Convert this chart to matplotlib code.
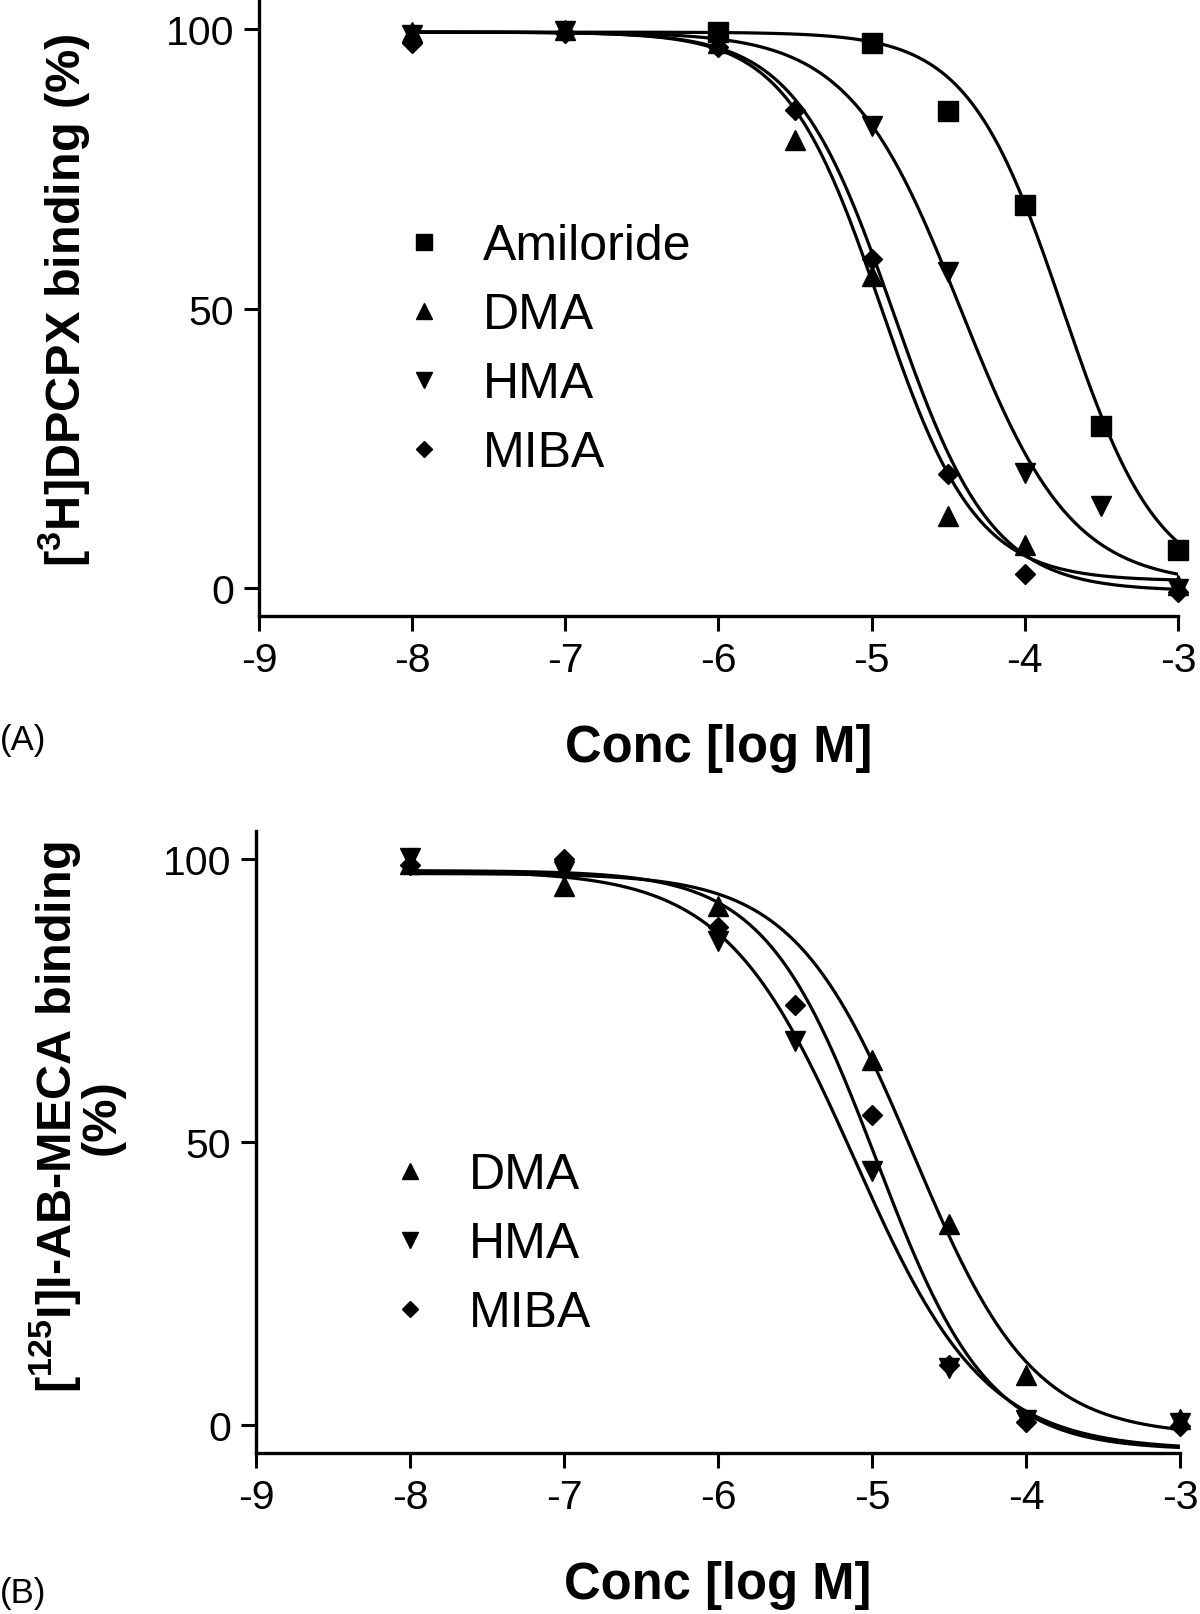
import numpy as np
import matplotlib
matplotlib.use('Agg')
import matplotlib.pyplot as plt

plt.rcParams['font.family'] = ['Liberation Sans', 'DejaVu Sans']
plt.rcParams['mathtext.fontset'] = 'custom'
plt.rcParams['mathtext.rm'] = 'Liberation Sans'
plt.rcParams['mathtext.bf'] = 'Liberation Sans:bold'
plt.rcParams['axes.unicode_minus'] = False

# ---- panel A data ([3H]DPCPX) ----
amil_a_x = [-6, -5, -4.5, -4, -3.5, -3]
amil_a_y = [99.5, 97.6, 85.4, 68.5, 29.0, 6.7]
dma_a_x = [-8, -7, -6, -5.5, -5, -4.5, -4, -3]
dma_a_y = [99.5, 99.8, 97.5, 80.2, 55.8, 12.8, 7.7, 0.5]
hma_a_x = [-8, -7, -6, -5, -4.5, -4, -3.5, -3]
hma_a_y = [98.9, 99.7, 99.2, 82.6, 56.5, 20.5, 14.7, -0.3]
miba_a_x = [-8, -7, -6, -5.5, -5, -4.5, -4, -3]
miba_a_y = [97.6, 99.3, 96.9, 85.5, 58.8, 20.4, 2.4, -0.8]

# ---- panel B data ([125I]I-AB-MECA) ----
dma_b_x = [-8, -7, -6, -5, -4.5, -4, -3]
dma_b_y = [99.2, 95.3, 91.7, 64.5, 35.4, 8.7, 1.0]
hma_b_x = [-8, -7, -6, -5.5, -5, -4.5, -4, -3]
hma_b_y = [100.3, 98.0, 85.5, 67.8, 44.8, 10.0, 0.8, 0.3]
miba_b_x = [-8, -7, -6, -5.5, -5, -4.5, -4, -3]
miba_b_y = [99.0, 100.0, 88.1, 74.3, 54.8, 10.6, 0.5, -0.3]

# fitted curve parameters: top, bottom, logIC50, hill
amil_a_fit = [99.5, 0.0, -3.75, 1.4]
dma_a_fit = [99.5, 1.2, -4.94, 1.4]
hma_a_fit = [99.5, 0.5, -4.42, 1.2]
miba_a_fit = [99.5, -0.6, -4.86, 1.35]
dma_b_fit = [97.5, -2.0, -4.73, 1.12]
hma_b_fit = [98.0, -4.5, -5.11, 1.03]
miba_b_fit = [98.0, -4.5, -4.97, 1.2]

xticks = [-9, -8, -7, -6, -5, -4, -3]
yticks = [0, 50, 100]


def curve(p, x):
    top, bottom, logic50, hill = p
    return bottom + (top - bottom) / (1 + 10 ** ((x - logic50) * hill))


def style_axes(ax):
    ax.set_xlim(-9, -3)
    ax.set_ylim(-5, 105)
    ax.set_xticks(xticks)
    ax.set_xticklabels([str(t) for t in xticks])
    ax.set_yticks(yticks)
    ax.spines['top'].set_visible(False)
    ax.spines['right'].set_visible(False)
    ax.spines['left'].set_linewidth(2.4)
    ax.spines['bottom'].set_linewidth(2.4)
    ax.tick_params(direction='out', length=11, width=2.2, labelsize=29.5, pad=7)


fig = plt.figure(figsize=(12, 16.15), dpi=100)
axA = fig.add_axes([0.2158, 0.6182, 0.7658, 0.3803])
axB = fig.add_axes([0.2133, 0.0998, 0.7700, 0.3850])

xs = np.linspace(-8, -3, 400)
mk = dict(color='black', linestyle='none', clip_on=False, zorder=3)

for p in [amil_a_fit, dma_a_fit, hma_a_fit, miba_a_fit]:
    axA.plot(xs, curve(p, xs), color='black', lw=2.3)
axA.plot(amil_a_x, amil_a_y, marker='s', ms=15, label='Amiloride', **mk)
axA.plot(dma_a_x, dma_a_y, marker='^', ms=15, label='DMA', **mk)
axA.plot(hma_a_x, hma_a_y, marker='v', ms=15, label='HMA', **mk)
axA.plot(miba_a_x, miba_a_y, marker='D', ms=10.5, label='MIBA', **mk)

for p in [dma_b_fit, hma_b_fit, miba_b_fit]:
    axB.plot(xs, curve(p, xs), color='black', lw=2.3)
axB.plot(dma_b_x, dma_b_y, marker='^', ms=15, label='DMA', **mk)
axB.plot(hma_b_x, hma_b_y, marker='v', ms=15, label='HMA', **mk)
axB.plot(miba_b_x, miba_b_y, marker='D', ms=10.5, label='MIBA', **mk)

for ax in (axA, axB):
    style_axes(ax)

leg_kw = dict(loc='upper left', frameon=False, fontsize=36, handlelength=1.0,
              handletextpad=0.68, borderpad=0, borderaxespad=0,
              labelspacing=0.46, markerscale=0.8)
axA.legend(bbox_to_anchor=(0.152, 0.639), **leg_kw)
axB.legend(bbox_to_anchor=(0.1398, 0.4838), **leg_kw)

axA.set_xlabel('Conc [log M]', fontsize=36.5, fontweight='bold', va='baseline')
axA.xaxis.set_label_coords(0.5, -0.2367)
axB.set_xlabel('Conc [log M]', fontsize=36.5, fontweight='bold', va='baseline')
axB.xaxis.set_label_coords(0.5, -0.2335)

fig.text(81 / 1200, 1 - 300 / 1615, r'[$^{\mathbf{3}}$H]DPCPX binding (%)',
         rotation=90, rotation_mode='anchor', ha='center', va='baseline',
         fontsize=35, fontweight='bold')
fig.text(76 / 1200, 1 - 1117 / 1615,
         '[$^{\\mathbf{125}}$I]I-AB-MECA binding\n(%)',
         rotation=90, rotation_mode='anchor', ha='center', va='center',
         multialignment='center', linespacing=0.9,
         fontsize=35, fontweight='bold')

fig.text(0.0, 1 - 741 / 1615, '(A)', fontsize=25, ha='left', va='center')
fig.text(0.0, 1 - 1594 / 1615, '(B)', fontsize=25, ha='left', va='center')

fig.savefig('out.png', dpi=100)
